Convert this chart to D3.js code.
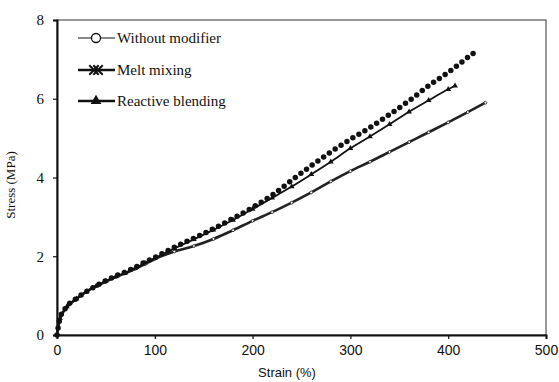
<!DOCTYPE html>
<html><head><meta charset="utf-8">
<script src="https://cdn.jsdelivr.net/npm/d3@7/dist/d3.min.js"></script>
<style>body{margin:0;background:#fff}svg{display:block}</style>
</head><body>
<svg id="c" width="559" height="382"></svg>
<script>
const seriesNames = ["Without modifier", "Melt mixing", "Reactive blending"];
const xTicks = [0, 100, 200, 300, 400, 500];
const yTicks = [0, 2, 4, 6, 8];

const strainWithout = [0,3,10,20,30,40,50,60,70,80,90,100,120,140,160,180,200,220,240,260,280,300,320,340,360,380,400,420,438];
const stressWithout = [0,0.4,0.7,0.92,1.1,1.24,1.36,1.47,1.57,1.68,1.8,1.93,2.12,2.26,2.44,2.66,2.9,3.12,3.36,3.62,3.9,4.16,4.4,4.65,4.9,5.15,5.4,5.66,5.9];

const strainMelt = [0,3,10,20,30,40,50,60,70,80,90,100,120,140,160,180,200,220,240,260,280,300,320,340,360,380,400,420,428];
const stressMelt = [0,0.42,0.72,0.93,1.1,1.25,1.38,1.5,1.6,1.72,1.85,1.97,2.23,2.46,2.7,2.96,3.24,3.55,3.93,4.3,4.65,4.97,5.27,5.6,5.95,6.33,6.67,7.05,7.2];

const strainReactive = [0,3,10,20,30,40,50,60,70,80,90,100,120,140,160,180,200,220,240,260,280,300,320,340,360,380,400,407];
const stressReactive = [0,0.42,0.72,0.92,1.1,1.24,1.37,1.48,1.58,1.7,1.83,1.95,2.2,2.43,2.67,2.92,3.2,3.48,3.77,4.08,4.4,4.74,5.04,5.35,5.67,5.96,6.24,6.33];

const svg = d3.select("#c");
const L = 57, R = 546, T = 20, B = 335;
const x = d3.scaleLinear().domain([0, 500]).range([L, R]);
const y = d3.scaleLinear().domain([0, 8]).range([B, T]);

const zip = (a, b) => a.map((v, i) => [v, b[i]]);
const line = d3.line().x(d => x(d[0])).y(d => y(d[1])).curve(d3.curveMonotoneX);

// frame
svg.append("rect").attr("x", L).attr("y", T).attr("width", R - L).attr("height", B - T)
  .attr("fill", "none").attr("stroke", "#333").attr("stroke-width", 1);

// axes
const xAxis = d3.axisBottom(x).tickValues(xTicks).tickSize(4).tickPadding(6);
const gx = svg.append("g").attr("transform", `translate(0,${B})`).call(xAxis);
gx.select(".domain").attr("stroke", "#111").attr("stroke-width", 2);
gx.selectAll(".tick line").attr("stroke", "#111").attr("stroke-width", 1.2);
gx.selectAll("text").attr("font-family", "Liberation Sans, Arial, sans-serif").attr("font-size", 14).attr("fill", "#111");

const yAxis = d3.axisLeft(y).tickValues(yTicks).tickSize(4).tickPadding(9);
const gy = svg.append("g").attr("transform", `translate(${L},0)`).call(yAxis);
gy.select(".domain").attr("stroke", "#111").attr("stroke-width", 2);
gy.selectAll(".tick line").attr("stroke", "#111").attr("stroke-width", 1.2);
gy.selectAll("text").attr("font-family", "Liberation Serif, Times New Roman, serif").attr("font-size", 15).attr("fill", "#111");

// axis titles
svg.append("text").attr("x", 287).attr("y", 377).attr("text-anchor", "middle")
  .attr("font-family", "Liberation Sans, Arial, sans-serif").attr("font-size", 13).attr("fill", "#111")
  .text("Strain (%)");
svg.append("text").attr("transform", "translate(15,185) rotate(-90)").attr("text-anchor", "middle")
  .attr("font-family", "Liberation Serif, Times New Roman, serif").attr("font-size", 13).attr("fill", "#111")
  .text("Stress (MPa)");

const plot = svg.append("g");

// Without modifier
const dW = zip(strainWithout, stressWithout);
plot.append("path").attr("d", line(dW)).attr("fill", "none").attr("stroke", "#222").attr("stroke-width", 2.6);
plot.selectAll(".cw").data(dW.slice(1)).join("circle").attr("cx", d => x(d[0])).attr("cy", d => y(d[1]))
  .attr("r", 1.4).attr("fill", "#fff").attr("stroke", "#222").attr("stroke-width", 0.8);

// Reactive blending
const dR = zip(strainReactive, stressReactive);
plot.append("path").attr("d", line(dR)).attr("fill", "none").attr("stroke", "#111").attr("stroke-width", 1.8);
const tri = d3.symbol().type(d3.symbolTriangle).size(14);
plot.selectAll(".tr").data(dR.slice(1)).join("path").attr("d", tri)
  .attr("transform", d => `translate(${x(d[0])},${y(d[1])})`).attr("fill", "#111");

// Melt mixing (dense dotted markers)
const dM = zip(strainMelt, stressMelt);
plot.append("path").attr("d", line(dM)).attr("fill", "none").attr("stroke", "#111")
  .attr("stroke-width", 5.5).attr("stroke-linecap", "round").attr("stroke-dasharray", "0 7");

// legend
const leg = svg.append("g");
const ly = [38, 70, 101];
seriesNames.forEach((n, i) => {
  leg.append("line").attr("x1", 78).attr("x2", 115).attr("y1", ly[i]).attr("y2", ly[i])
    .attr("stroke", "#111").attr("stroke-width", i === 0 ? 1.2 : 2.5);
  if (i === 0) {
    leg.append("circle").attr("cx", 96).attr("cy", ly[i]).attr("r", 4.5).attr("fill", "#fff").attr("stroke", "#111").attr("stroke-width", 1.3);
  } else if (i === 1) {
    leg.append("path").attr("d", d3.symbol().type(d3.symbolX).size(60)).attr("transform", `translate(94,${ly[i]})`).attr("fill", "#111").attr("stroke", "#111").attr("stroke-width", 2);
    leg.append("path").attr("d", d3.symbol().type(d3.symbolX).size(60)).attr("transform", `translate(98,${ly[i]})`).attr("fill", "#111").attr("stroke", "#111").attr("stroke-width", 2);
  } else {
    leg.append("path").attr("d", d3.symbol().type(d3.symbolTriangle).size(50)).attr("transform", `translate(96,${ly[i]})`).attr("fill", "#111");
  }
  leg.append("text").attr("x", 117).attr("y", ly[i] + 5)
    .attr("font-family", "Liberation Serif, Times New Roman, serif").attr("font-size", 15).attr("fill", "#111").text(n);
});
</script>
</body></html>
